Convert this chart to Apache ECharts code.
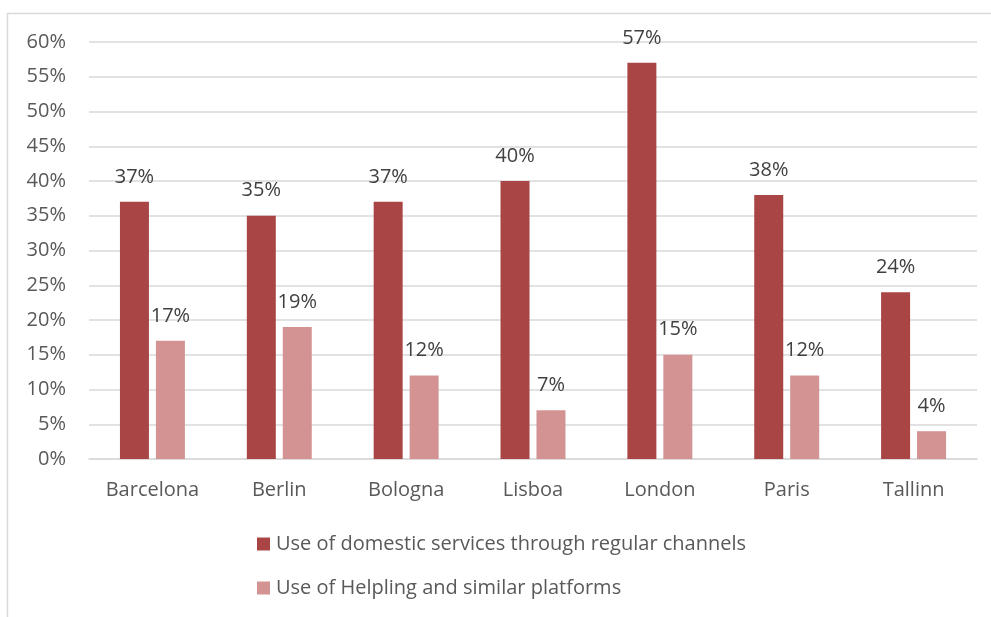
<!DOCTYPE html>
<html>
<head>
<meta charset="utf-8">
<script src="https://cdn.jsdelivr.net/npm/echarts@6/dist/echarts.min.js"></script>
<style>
  html, body { margin: 0; padding: 0; background: #ffffff; }
  #chart { width: 991px; height: 617px; }
</style>
</head>
<body>
<div id="chart"></div>
<script>
// Cities surveyed
var cities = ['Barcelona', 'Berlin', 'Bologna', 'Lisboa', 'London', 'Paris', 'Tallinn'];

// Share of respondents (%) per channel
var regularChannels = [37, 35, 37, 40, 57, 38, 24];
var platforms = [17, 19, 12, 7, 15, 12, 4];

var seriesNames = [
  'Use of domestic services through regular channels',
  'Use of Helpling and similar platforms'
];

// Y axis ticks: 0% .. 60% every 5%
var yMin = 0, yMax = 60, yStep = 5;

var FONT = '"Open Sans", "Noto Sans", sans-serif';

var chart = echarts.init(document.getElementById('chart'), null, { renderer: 'canvas' });

var labelStyle = {
  show: true,
  position: 'top',
  distance: 15,
  color: '#404040',
  fontFamily: FONT,
  fontSize: 20,
  formatter: function (p) { return p.value + '%'; }
};

chart.setOption({
  animation: false,
  backgroundColor: '#ffffff',
  textStyle: { fontFamily: FONT },
  graphic: [
    {
      type: 'polyline',
      shape: { points: [[7.5, 617], [7.5, 13.5], [991, 13.5]] },
      style: { stroke: '#d9d9d9', lineWidth: 1.5, fill: null },
      silent: true
    }
  ],
  grid: { left: 89, right: 14, top: 42, bottom: 158, containLabel: false },
  legend: {
    orient: 'vertical',
    left: 257,
    top: 534,
    padding: 0,
    itemWidth: 13,
    itemHeight: 13,
    itemGap: 24,
    icon: 'rect',
    textStyle: { color: '#595959', fontSize: 20, fontFamily: FONT, padding: [0, 0, 0, 1] },
    data: seriesNames
  },
  xAxis: {
    type: 'category',
    data: cities,
    axisLine: { lineStyle: { color: '#d9d9d9', width: 1.5 } },
    axisTick: { show: false },
    axisLabel: { color: '#595959', fontSize: 20, fontFamily: FONT, margin: 21 }
  },
  yAxis: {
    type: 'value',
    min: yMin,
    max: yMax,
    interval: yStep,
    axisLine: { show: false },
    axisTick: { show: false },
    splitLine: { lineStyle: { color: '#d9d9d9', width: 1.5 } },
    axisLabel: {
      color: '#595959',
      fontSize: 20,
      fontFamily: FONT,
      margin: 23,
      formatter: function (v) { return v + '%'; }
    }
  },
  series: [
    {
      name: seriesNames[0],
      type: 'bar',
      data: regularChannels,
      barWidth: 29,
      barGap: '24%',
      itemStyle: { color: '#a94645' },
      label: labelStyle
    },
    {
      name: seriesNames[1],
      type: 'bar',
      data: platforms,
      barWidth: 29,
      itemStyle: { color: '#d49393' },
      label: labelStyle
    }
  ]
});
</script>
</body>
</html>
